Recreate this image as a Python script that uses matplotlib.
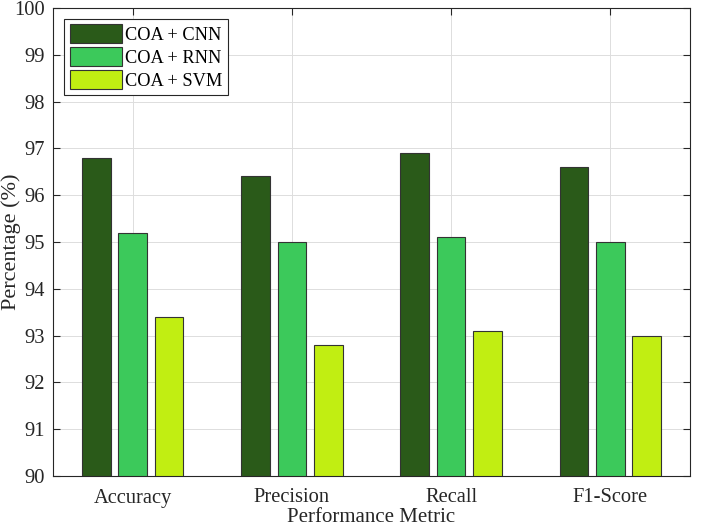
import matplotlib.pyplot as plt
import numpy as np

plt.rcParams['font.family'] = ['Liberation Serif', 'DejaVu Serif']

metrics = ['Accuracy', 'Precision', 'Recall', 'F1-Score']
cnn = [96.8, 96.4, 96.9, 96.6]
rnn = [95.2, 95.0, 95.1, 95.0]
svm = [93.4, 92.8, 93.1, 93.0]
labels = ['COA + CNN', 'COA + RNN', 'COA + SVM']
colors = ['#2a5a19', '#3cc95b', '#c1ee12']


def main():
    fig = plt.figure(figsize=(7.02, 5.27), dpi=100)
    ax = fig.add_axes([53 / 702, 1 - 476 / 527, 637 / 702, 468 / 527])

    x = np.arange(1, len(metrics) + 1)
    w = 0.18
    off = 0.228
    for i, (vals, lab, c) in enumerate(zip([cnn, rnn, svm], labels, colors)):
        ax.bar(x + (i - 1) * off, np.array(vals) - 90, w, bottom=90, color=c,
               edgecolor='#333333', linewidth=0.8, label=lab, zorder=3)

    ax.set_xlim(0.5, 4.5)
    ax.set_ylim(90, 100)
    ax.set_xticks(x)
    ax.set_xticklabels(metrics)
    ax.set_yticks(np.arange(90, 101, 1))
    ax.grid(True, color='#dddddd', linewidth=0.7, zorder=0)
    ax.tick_params(direction='in', top=True, right=True, labelsize=14.8,
                   colors='#262626', length=5)
    ax.tick_params(axis='x', pad=9)
    ax.tick_params(axis='y', pad=5.5)
    for s in ax.spines.values():
        s.set_color('#262626')
        s.set_linewidth(0.8)
    ax.set_ylabel('Percentage (%)', fontsize=16, color='#262626')
    ax.yaxis.set_label_coords(-0.051, 0.5)
    ax.set_xlabel('Performance Metric', fontsize=15, color='#262626')
    ax.xaxis.set_label_coords(0.5, -0.068)

    leg = ax.legend(loc='upper left', fontsize=13.2, fancybox=False,
                    edgecolor='#262626', framealpha=1, borderpad=0.3,
                    handlelength=2.85, handleheight=1.15, labelspacing=0.2,
                    handletextpad=0.2, borderaxespad=0.6)
    leg.get_frame().set_linewidth(0.8)

    fig.savefig('out.png', dpi=100)


if __name__ == "__main__":
    main()
